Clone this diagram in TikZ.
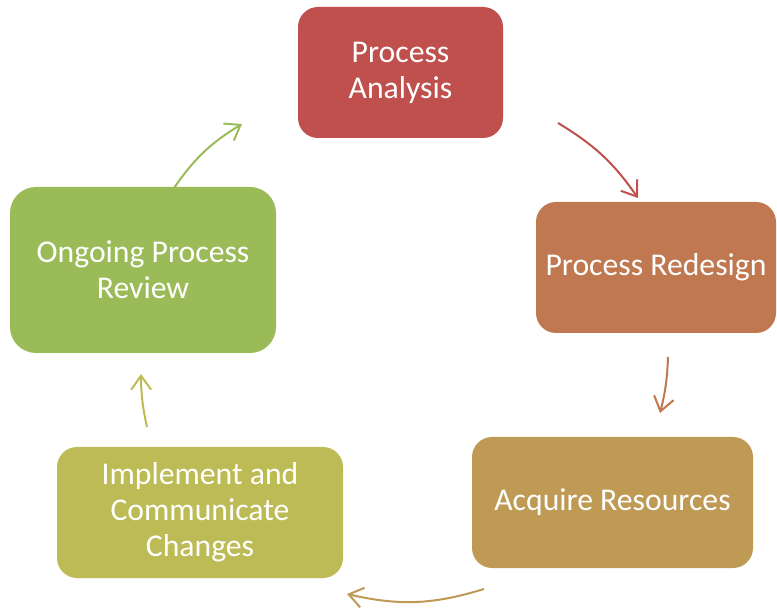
\documentclass[tikz,border=0pt]{standalone}
\usepackage{fontspec}
\setmainfont{Carlito}
\usetikzlibrary{arrows.meta, positioning}
\definecolor{analysisRed}{RGB}{192, 80, 77}
\definecolor{redesignOrange}{RGB}{192, 120, 80}
\definecolor{resourceGold}{RGB}{190, 154, 84}
\definecolor{implementOlive}{RGB}{189, 187, 85}
\definecolor{reviewGreen}{RGB}{155, 187, 89}

\begin{document}
\begin{tikzpicture}[x=1pt, y=-1pt, font=\fontsize{31.7}{36}\selectfont]
            \useasboundingbox (0,0) rectangle (777,609);
            % Nodes
            \node[fill=analysisRed, text=white, rounded corners=20pt, minimum width=205pt, minimum height=131pt, align=center] (analysis) at (400.5,72.5) {Process\\Analysis};
            \node[fill=redesignOrange, text=white, rounded corners=20pt, minimum width=240pt, minimum height=131pt, align=center] (redesign) at (656,267.5) {Process Redesign};
            \node[fill=resourceGold, text=white, rounded corners=20pt, minimum width=281pt, minimum height=131pt, align=center] (resources) at (612.5,502.5) {Acquire Resources};
            \node[fill=implementOlive, text=white, rounded corners=20pt, minimum width=286pt, minimum height=131pt, align=center] (implement) at (200,512.5) {Implement and\\Communicate\\Changes};
            \node[fill=reviewGreen, text=white, rounded corners=26pt, minimum width=266pt, minimum height=166pt, align=center] (review) at (143,270) {Ongoing Process\\Review};

            % Arrow ends
            \coordinate (analysisOut) at (558,123);
            \coordinate (redesignIn) at (638,198);
            \coordinate (redesignOut) at (668,357);
            \coordinate (resourcesIn) at (660,413);
            \coordinate (resourcesOut) at (484,589);
            \coordinate (implementIn) at (347,594);
            \coordinate (implementOut) at (147,427);
            \coordinate (reviewIn) at (141,374);
            \coordinate (reviewOut) at (174,188);
            \coordinate (analysisIn) at (242,124);

            % Arrows
            \draw[-{Straight Barb[length=14pt, width=20pt]}, line width=2pt, analysisRed] (analysisOut) to[bend left=12] (redesignIn);
            \draw[-{Straight Barb[length=14pt, width=20pt]}, line width=2pt, redesignOrange] (redesignOut) to[bend left=6] (resourcesIn);
            \draw[-{Straight Barb[length=14pt, width=20pt]}, line width=2pt, resourceGold] (resourcesOut) to[bend left=15] (implementIn);
            \draw[-{Straight Barb[length=14pt, width=20pt]}, line width=2pt, implementOlive] (implementOut) to[bend left=6] (reviewIn);
            \draw[-{Straight Barb[length=14pt, width=20pt]}, line width=2pt, reviewGreen] (reviewOut) to[bend left=12] (analysisIn);
\end{tikzpicture}
\end{document}
